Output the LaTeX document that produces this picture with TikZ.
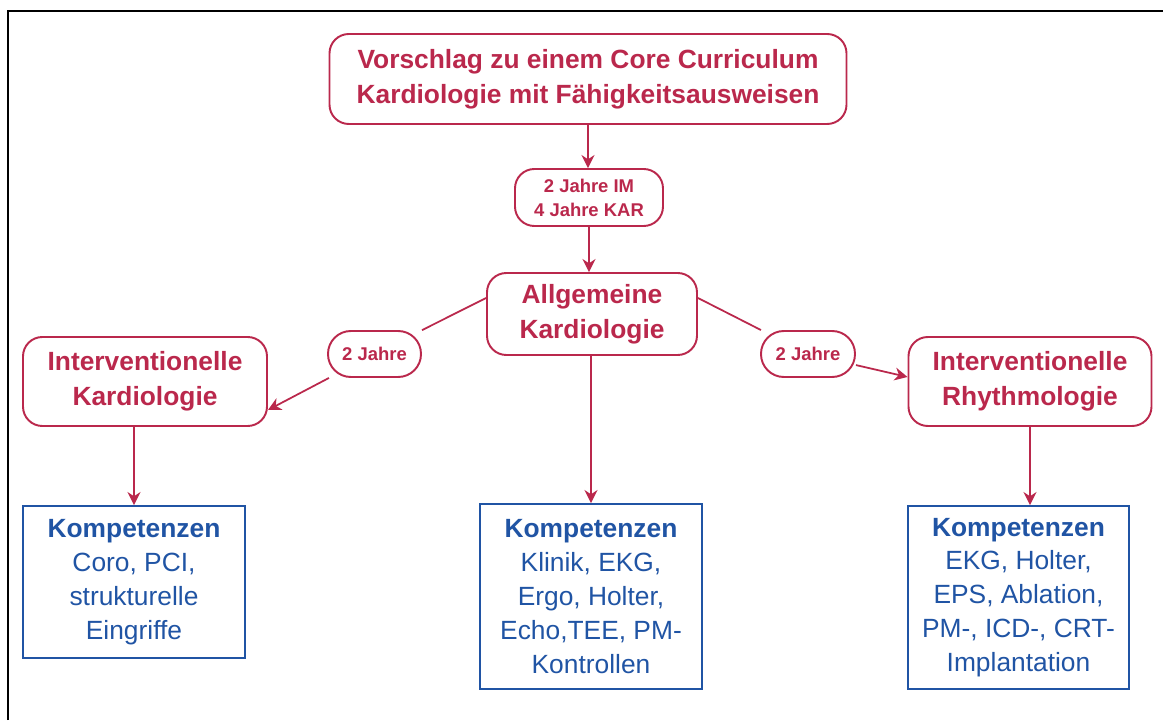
\documentclass[tikz,border=0pt]{standalone}
\usepackage{fontspec}
\setmainfont{Liberation Sans}
\definecolor{kardred}{RGB}{186, 40, 76}
\definecolor{kompblue}{RGB}{32, 84, 164}
\usetikzlibrary{arrows.meta, positioning, calc}
\tikzset{
  redbox/.style={draw=kardred, line width=1.1pt, rounded corners=11pt, text=kardred, align=center, inner sep=0pt, font=\fontsize{15}{19.8}\selectfont\bfseries},
  pill/.style={draw=kardred, line width=1.1pt, rounded corners=11pt, text=kardred, align=center, inner sep=0pt, font=\fontsize{10.5}{13.6}\selectfont\bfseries},
  kompbox/.style={draw=kompblue, line width=1.1pt, text=kompblue, align=center, inner sep=0pt, font=\fontsize{15}{19.3}\selectfont},
  redline/.style={draw=kardred, line width=1pt},
  redarrow/.style={redline, -{Stealth[length=2.6mm, width=2.6mm]}}
}

\begin{document}
\begin{tikzpicture}
  \useasboundingbox (0,0) rectangle (23.26,14.4);
  % frame
  \draw[line width=1.1pt] (0.16,0) -- (0.16,14.18) -- (23.26,14.18);

  % top
  \node[redbox, minimum width=10.34cm, minimum height=1.8cm] (core) at (11.76, 12.82) {Vorschlag zu einem Core Curriculum\\Kardiologie mit Fähigkeitsausweisen};
  \node[pill, minimum width=2.96cm, minimum height=1.14cm] (jahre) at (11.78, 10.45) {2 Jahre IM\\4 Jahre KAR};
  \node[redbox, minimum width=4.2cm, minimum height=1.64cm] (allg) at (11.84, 8.12) {Allgemeine\\Kardiologie};
  \draw[redarrow] (core.south) -- (core.south |- jahre.north);
  \draw[redarrow] (jahre.south) -- (jahre.south |- allg.north);

  % left branch
  \node[pill, rounded corners=13pt, minimum width=1.86cm, minimum height=0.92cm] (ljahre) at (7.49, 7.32) {2 Jahre};
  \node[redbox, minimum width=4.88cm, minimum height=1.78cm] (linter) at (2.9, 6.77) {Interventionelle\\Kardiologie};
  \draw[redline] ([yshift=0.32cm]allg.west) -- (ljahre);
  \draw[redarrow] (ljahre) -- ([yshift=-0.57cm]linter.east);

  % right branch
  \node[pill, rounded corners=13pt, minimum width=1.88cm, minimum height=0.92cm] (rjahre) at (16.16, 7.32) {2 Jahre};
  \node[redbox, minimum width=4.86cm, minimum height=1.78cm] (rinter) at (20.6, 6.77) {Interventionelle\\Rhythmologie};
  \draw[redline] ([yshift=0.32cm]allg.east) -- (rjahre);
  \draw[redarrow] (rjahre) -- ([yshift=0.09cm]rinter.west);

  % Kompetenzen
  \node[kompbox, minimum width=4.44cm, minimum height=3.04cm] (lkomp) at (2.68, 2.76) {\textbf{Kompetenzen}\\Coro, PCI,\\strukturelle\\Eingriffe};
  \node[kompbox, minimum width=4.44cm, minimum height=3.7cm] (mkomp) at (11.82, 2.47) {\textbf{Kompetenzen}\\Klinik, EKG,\\Ergo, Holter,\\Echo,TEE, PM-\\Kontrollen};
  \node[kompbox, minimum width=4.42cm, minimum height=3.66cm] (rkomp) at (20.37, 2.45) {\textbf{Kompetenzen}\\EKG, Holter,\\EPS, Ablation,\\PM-, ICD-, CRT-\\Implantation};
  \draw[redarrow] (lkomp.north |- linter.south) -- (lkomp.north);
  \draw[redarrow] (allg.south -| mkomp.north) -- (mkomp.north);
  \draw[redarrow] (rinter.south) -- (rinter.south |- rkomp.north);
\end{tikzpicture}
\end{document}
